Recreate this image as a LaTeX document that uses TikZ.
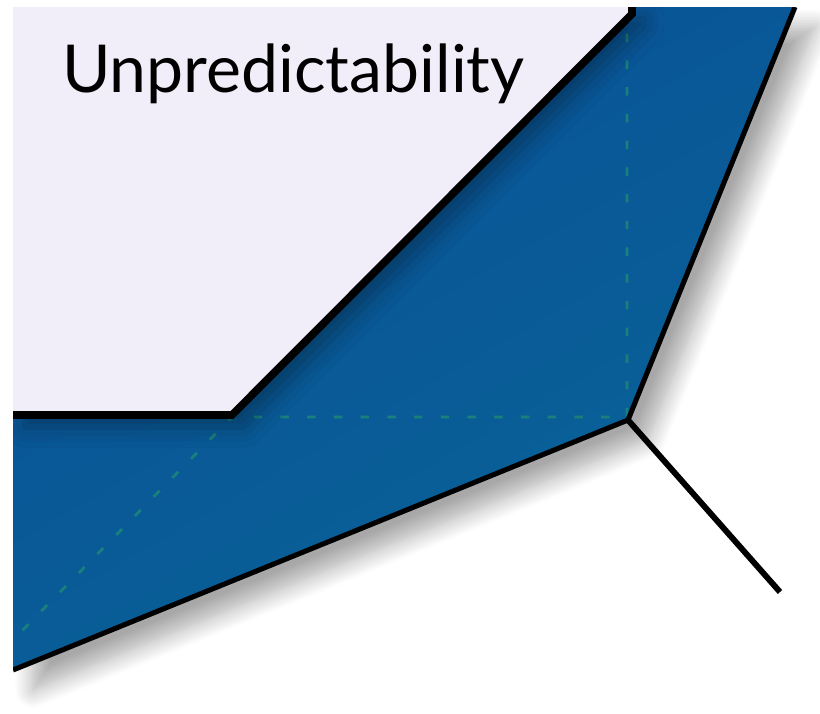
\documentclass[tikz,border=0pt]{standalone}
\usepackage{fontspec}
\setmainfont{Lato}
\usepackage{xcolor}
\usetikzlibrary{shadows.blur}
\definecolor{bandtop}{RGB}{10,80,150}
\definecolor{bandlow}{RGB}{8,100,152}
\definecolor{paper}{RGB}{241,238,250}
\definecolor{guide}{RGB}{26,128,124}

\begin{document}
\begin{tikzpicture}[x=0.025cm,y=-0.025cm]
\useasboundingbox (0,0) rectangle (820,713);
\clip (13,7) rectangle (820,713);
% corners of the two outlines
\coordinate (ptop) at (632,7);
\coordinate (pknee) at (632,14);
\coordinate (pfoot) at (232,415);
\coordinate (pleft) at (13,415);
\coordinate (otop) at (795,7);
\coordinate (ocorner) at (628,420);
\coordinate (oleft) at (13,670);
\coordinate (tail) at (780,592);
% blue band and its shadow
\shade[top color=bandtop,bottom color=bandlow,shading angle=30,
   blur shadow={shadow xshift=0.5cm,shadow yshift=-0.5cm,shadow blur radius=0.45cm,shadow blur steps=12,shadow opacity=34}]
   (ptop) -- (otop) -- (ocorner) -- (oleft) -- (pleft) -- (pfoot) -- cycle;
% dashed guides
\draw[guide,line width=2pt,dash pattern=on 6pt off 13pt] (627,7) -- (627,417) -- (232,417) -- (13,640);
% light face
\fill[paper,blur shadow={shadow xshift=0.3cm,shadow yshift=-0.3cm,shadow blur radius=0.5cm,shadow opacity=32}]
   (13,0) -- (ptop) -- (pknee) -- (pfoot) -- (pleft) -- cycle;
% outlines
\draw[line width=5.5pt,line join=miter] (ptop) -- (pknee) -- (pfoot) -- (pleft);
\draw[line width=3.6pt] (otop) -- (ocorner) -- (oleft);
\draw[line width=4.2pt] (ocorner) -- (tail);
\node[anchor=base west,inner sep=0pt,font=\fontsize{47}{47}\selectfont] (title) at (62,92) {Unpredictability};
\end{tikzpicture}
\end{document}
